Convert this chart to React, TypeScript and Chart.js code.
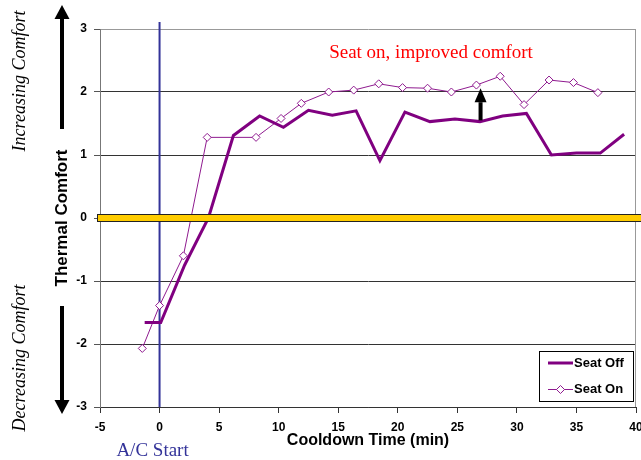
import React, { useEffect, useRef } from 'react';
import { Chart, registerables } from 'chart.js';
Chart.register(...registerables);

// ---- Data ----
const offTimes = [-1.25, 0.1, 2.1, 4.1, 6.2, 8.4, 10.4, 12.5, 14.5, 16.5, 18.5, 20.6, 22.7, 24.8, 26.9, 28.8, 30.8, 32.9, 35.0, 37.0, 39.0];
const offValues = [-1.66, -1.66, -0.75, 0.0, 1.31, 1.62, 1.44, 1.71, 1.63, 1.7, 0.91, 1.68, 1.53, 1.57, 1.53, 1.62, 1.66, 1.0, 1.03, 1.03, 1.33];
const onTimes = [-1.45, 0, 2.0, 4.0, 8.1, 10.2, 11.9, 14.2, 16.3, 18.4, 20.4, 22.5, 24.5, 26.6, 28.6, 30.6, 32.7, 34.75, 36.8];
const onValues = [-2.07, -1.39, -0.6, 1.28, 1.28, 1.58, 1.82, 2.0, 2.03, 2.13, 2.07, 2.06, 2.0, 2.11, 2.25, 1.8, 2.19, 2.15, 1.99];
const seriesNames = ['Seat Off', 'Seat On'];
const xRange = [-5, 40];
const yRange = [-3, 3];
const acStartTime = 0;
const improvementArrow = { x: 26.95, from: 1.55, to: 2.06 };
const labels = {
  xTitle: 'Cooldown Time (min)',
  yTitle: 'Thermal Comfort',
  acStart: 'A/C Start',
  note: 'Seat on, improved comfort',
  up: 'Increasing Comfort',
  down: 'Decreasing Comfort',
};

const PURPLE = '#800080';
const PURPLE_ON = '#8f1a8f';
const SANS = '"Liberation Sans", Arial, sans-serif';
const SERIF = '"Liberation Serif", "Times New Roman", serif';

function arrow(ctx: CanvasRenderingContext2D, x: number, tail: number, tip: number, shaftW: number, headW: number, headL: number) {
  const dir = tip < tail ? -1 : 1;
  const headBase = tip - dir * headL;
  ctx.fillStyle = '#000';
  ctx.fillRect(x - shaftW / 2, Math.min(tail, headBase), shaftW, Math.abs(headBase - tail));
  ctx.beginPath();
  ctx.moveTo(x, tip);
  ctx.lineTo(x - headW / 2, headBase);
  ctx.lineTo(x + headW / 2, headBase);
  ctx.closePath();
  ctx.fill();
}

const overlay = {
  id: 'overlay',
  beforeDatasetsDraw(chart: any) {
    const { ctx, chartArea, scales } = chart;
    ctx.save();
    ctx.strokeStyle = '#999';
    ctx.lineWidth = 1;
    ctx.beginPath();
    ctx.moveTo(chartArea.right - 0.5, chartArea.top);
    ctx.lineTo(chartArea.right - 0.5, chartArea.bottom);
    ctx.stroke();
    const xs = scales.x.getPixelForValue(acStartTime);
    ctx.strokeStyle = '#333399';
    ctx.lineWidth = 2;
    ctx.beginPath();
    ctx.moveTo(xs, chartArea.top - 7);
    ctx.lineTo(xs, chartArea.bottom);
    ctx.stroke();
    ctx.restore();
  },
  afterDatasetsDraw(chart: any) {
    const { ctx, chartArea, scales, width } = chart;
    ctx.save();
    const y0 = scales.y.getPixelForValue(0);
    ctx.fillStyle = '#FFCC00';
    ctx.strokeStyle = '#222';
    ctx.lineWidth = 1;
    ctx.fillRect(chartArea.left - 3, y0 - 3.5, width, 7);
    ctx.strokeRect(chartArea.left - 2.5, y0 - 3.5, width, 7);
    const ax = scales.x.getPixelForValue(improvementArrow.x);
    arrow(ctx, ax, scales.y.getPixelForValue(improvementArrow.from), scales.y.getPixelForValue(improvementArrow.to), 4, 12, 14);
    ctx.restore();
  },
  afterDraw(chart: any) {
    const { ctx, scales } = chart;
    ctx.save();
    ctx.fillStyle = '#ff0000';
    ctx.font = `19px ${SERIF}`;
    ctx.textAlign = 'center';
    ctx.textBaseline = 'middle';
    ctx.fillText(labels.note, 431, 53);
    ctx.fillStyle = '#333399';
    ctx.font = `19px ${SERIF}`;
    ctx.fillText(labels.acStart, scales.x.getPixelForValue(acStartTime) - 7, 451);
    ctx.fillStyle = '#000';
    ctx.font = `italic 18px ${SERIF}`;
    ctx.save();
    ctx.translate(20, 81);
    ctx.rotate(-Math.PI / 2);
    ctx.fillText(labels.up, 0, 0);
    ctx.restore();
    ctx.save();
    ctx.translate(20, 358);
    ctx.rotate(-Math.PI / 2);
    ctx.fillText(labels.down, 0, 0);
    ctx.restore();
    arrow(ctx, 62, 129, 5, 4, 15, 14);
    arrow(ctx, 62, 306, 414, 4, 15, 14);
    // legend
    ctx.strokeStyle = '#000';
    ctx.lineWidth = 1;
    ctx.strokeRect(539.5, 351.5, 94, 50);
    ctx.font = `bold 13px ${SANS}`;
    ctx.textAlign = 'left';
    ctx.fillStyle = '#000';
    ctx.strokeStyle = PURPLE;
    ctx.lineWidth = 3;
    ctx.beginPath();
    ctx.moveTo(548, 363);
    ctx.lineTo(573, 363);
    ctx.stroke();
    ctx.fillText(seriesNames[0], 574, 363);
    ctx.strokeStyle = PURPLE_ON;
    ctx.lineWidth = 1;
    ctx.beginPath();
    ctx.moveTo(548, 389.5);
    ctx.lineTo(573, 389.5);
    ctx.stroke();
    ctx.fillStyle = '#fff';
    ctx.beginPath();
    ctx.moveTo(560.5, 385.5);
    ctx.lineTo(564.5, 389.5);
    ctx.lineTo(560.5, 393.5);
    ctx.lineTo(556.5, 389.5);
    ctx.closePath();
    ctx.fill();
    ctx.stroke();
    ctx.fillStyle = '#000';
    ctx.fillText(seriesNames[1], 574, 389);
    ctx.restore();
  },
};

export default function App() {
  const ref = useRef<HTMLCanvasElement>(null);
  useEffect(() => {
    if (!ref.current) return;
    const chart = new Chart(ref.current, {
      type: 'line',
      data: {
        datasets: [
          {
            label: seriesNames[0],
            data: offTimes.map((t, i) => ({ x: t, y: offValues[i] })),
            borderColor: PURPLE,
            borderWidth: 3,
            pointRadius: 0,
            tension: 0,
            fill: false,
          },
          {
            label: seriesNames[1],
            data: onTimes.map((t, i) => ({ x: t, y: onValues[i] })),
            borderColor: PURPLE_ON,
            borderWidth: 1,
            pointStyle: 'rectRot',
            pointRadius: 4,
            pointBackgroundColor: '#fff',
            pointBorderColor: PURPLE_ON,
            pointBorderWidth: 1,
            tension: 0,
            fill: false,
          },
        ],
      },
      options: {
        animation: false,
        responsive: true,
        maintainAspectRatio: false,
        events: [],
        layout: { padding: { top: 29, right: 4, left: 0, bottom: 0 } },
        plugins: { legend: { display: false }, tooltip: { enabled: false } },
        scales: {
          x: {
            type: 'linear',
            min: xRange[0],
            max: xRange[1],
            afterFit(scale: any) {
              scale.height = 53;
              scale.paddingLeft = 0;
              scale.paddingRight = 0;
            },
            ticks: {
              stepSize: 5,
              autoSkip: false,
              maxRotation: 0,
              color: '#000',
              padding: 7,
              font: { family: SANS, size: 12, weight: 'bold' },
            },
            grid: { drawOnChartArea: false, tickLength: 6, tickColor: '#333' },
            border: { color: '#333', width: 1 },
            title: {
              display: true,
              text: labels.xTitle,
              color: '#000',
              font: { family: SANS, size: 16, weight: 'bold' },
              padding: { top: 0, bottom: 10 },
            },
          },
          y: {
            type: 'linear',
            min: yRange[0],
            max: yRange[1],
            afterFit(scale: any) {
              scale.width = 100;
            },
            ticks: {
              stepSize: 1,
              color: '#000',
              padding: 7,
              font: { family: SANS, size: 12, weight: 'bold' },
            },
            grid: {
              color: (c: any) => (c.tick && c.tick.value === yRange[1] ? '#999' : '#333'),
              tickColor: '#555',
              tickLength: 6,
            },
            border: { color: '#777', width: 1 },
            title: {
              display: true,
              text: labels.yTitle,
              color: '#000',
              font: { family: SANS, size: 17, weight: 'bold' },
              padding: { top: 52, bottom: 0 },
            },
          },
        },
      },
      plugins: [overlay],
    });
    return () => chart.destroy();
  }, []);
  return (
    <div style={{ position: 'absolute', left: 0, top: 0, width: 641, height: 460 }}>
      <canvas ref={ref} />
    </div>
  );
}
